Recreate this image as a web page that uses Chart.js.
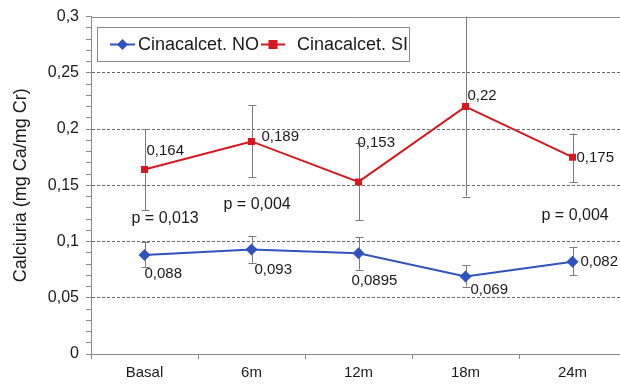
<!DOCTYPE html>
<html>
<head>
<meta charset="utf-8">
<script src="https://cdn.jsdelivr.net/npm/chart.js@4"></script>
<style>
  html, body { margin: 0; padding: 0; overflow: hidden; background: #fff; }
  canvas { display: block; }
</style>
</head>
<body>
<canvas id="chartCanvas" width="632" height="384"></canvas>
<script>
// data
const labels = ["Basal", "6m", "12m", "18m", "24m"];
const noValues = [0.088, 0.093, 0.0895, 0.069, 0.082];
const noUpper = [0.100, 0.105, 0.104, 0.079, 0.095];
const noLower = [0.077, 0.081, 0.075, 0.060, 0.070];
const siValues = [0.164, 0.189, 0.153, 0.22, 0.175];
const siUpper = [0.200, 0.221, 0.188, 0.31, 0.196];
const siLower = [0.128, 0.157, 0.119, 0.140, 0.153];
const noLabels = ["0,088", "0,093", "0,0895", "0,069", "0,082"];
const siLabels = ["0,164", "0,189", "0,153", "0,22", "0,175"];
const pTexts = ["p = 0,013", "p = 0,004", "p = 0,004"];
const pCats = [0, 1, 4];
const pValues = [0.120, 0.133, 0.123];

const FONT = "'Liberation Sans', Arial, sans-serif";
const BLUE = "#3153bd";
const RED = "#d3191f";
const GRAY = "#8a8a8a";

const fmt = v => String(Math.round(v * 100) / 100).replace(".", ",");

// label offsets relative to the point (px)
const siOff = [[2, -19], [10, -5], [-1, -39], [2, -11], [4, 1]];
const noOff = [[0, 19], [3, 20], [-7, 28], [5, 13], [8, 0]];
const pOff = [-13, -28, -31];

const errorBars = {
  id: "errorBars",
  beforeDatasetsDraw(chart) {
    const { ctx, chartArea, scales: { x, y } } = chart;
    ctx.save();
    ctx.beginPath();
    ctx.rect(chartArea.left, chartArea.top, chartArea.right - chartArea.left, chartArea.bottom - chartArea.top);
    ctx.clip();
    ctx.strokeStyle = "#7a7a7a";
    ctx.lineWidth = 1;
    [[noUpper, noLower], [siUpper, siLower]].forEach(([up, lo]) => {
      labels.forEach((l, i) => {
        const px = Math.round(x.getPixelForValue(i)) + 0.5;
        const y1 = y.getPixelForValue(up[i]);
        const y2 = y.getPixelForValue(lo[i]);
        ctx.beginPath();
        ctx.moveTo(px, y1); ctx.lineTo(px, y2);
        ctx.moveTo(px - 4, Math.round(y1) + 0.5); ctx.lineTo(px + 4, Math.round(y1) + 0.5);
        ctx.moveTo(px - 4, Math.round(y2) + 0.5); ctx.lineTo(px + 4, Math.round(y2) + 0.5);
        ctx.stroke();
      });
    });
    ctx.restore();
  },
  afterDatasetsDraw(chart) {
    const { ctx, chartArea, scales: { x, y } } = chart;
    ctx.save();
    // top frame line
    ctx.strokeStyle = GRAY;
    ctx.lineWidth = 1;
    ctx.beginPath();
    ctx.moveTo(chartArea.left, Math.round(chartArea.top) + 0.5);
    ctx.lineTo(chartArea.right, Math.round(chartArea.top) + 0.5);
    ctx.stroke();

    ctx.font = "15px " + FONT;
    ctx.fillStyle = "#1a1a1a";
    ctx.textAlign = "left";
    ctx.textBaseline = "middle";
    labels.forEach((l, i) => {
      const px = x.getPixelForValue(i);
      ctx.fillText(siLabels[i], px + siOff[i][0], y.getPixelForValue(siValues[i]) + siOff[i][1]);
      ctx.fillText(noLabels[i], px + noOff[i][0], y.getPixelForValue(noValues[i]) + noOff[i][1]);
    });
    ctx.font = "16px " + FONT;
    pTexts.forEach((t, k) => {
      ctx.fillText(t, x.getPixelForValue(pCats[k]) + pOff[k], y.getPixelForValue(pValues[k]));
    });

    // legend box
    ctx.fillStyle = "#fff";
    ctx.fillRect(97.5, 27.5, 312, 34);
    ctx.strokeStyle = "#888";
    ctx.strokeRect(97.5, 27.5, 312, 34);
    ctx.beginPath();
    ctx.rect(98, 28, 311, 33);
    ctx.clip();
    const ly = 44.5;
    ctx.lineWidth = 2;
    ctx.strokeStyle = BLUE;
    ctx.beginPath(); ctx.moveTo(110, ly); ctx.lineTo(135, ly); ctx.stroke();
    ctx.fillStyle = BLUE;
    ctx.beginPath();
    ctx.moveTo(122.5, ly - 5.5); ctx.lineTo(128, ly); ctx.lineTo(122.5, ly + 5.5); ctx.lineTo(117, ly);
    ctx.closePath(); ctx.fill();
    ctx.strokeStyle = RED;
    ctx.beginPath(); ctx.moveTo(261, ly); ctx.lineTo(285, ly); ctx.stroke();
    ctx.fillStyle = RED;
    ctx.fillRect(268.5, ly - 4.5, 9, 9);
    ctx.font = "18px " + FONT;
    ctx.fillStyle = "#1a1a1a";
    ctx.fillText("Cinacalcet. NO", 138, ly + 1);
    ctx.fillText("Cinacalcet. SI", 297, ly + 1);
    ctx.restore();
  }
};

new Chart(document.getElementById("chartCanvas"), {
  type: "line",
  data: {
    labels,
    datasets: [
      {
        label: "Cinacalcet. NO",
        data: noValues,
        borderColor: BLUE,
        backgroundColor: BLUE,
        borderWidth: 2,
        pointStyle: "rectRot",
        pointRadius: 6,
        pointBorderWidth: 0,
        tension: 0
      },
      {
        label: "Cinacalcet. SI",
        data: siValues,
        borderColor: RED,
        backgroundColor: RED,
        borderWidth: 2,
        pointStyle: "rect",
        pointRadius: 5,
        pointBorderWidth: 0,
        tension: 0
      }
    ]
  },
  options: {
    responsive: false,
    animation: false,
    layout: { padding: { top: 15, right: 5, left: 0, bottom: 0 } },
    plugins: { legend: { display: false }, tooltip: { enabled: false } },
    scales: {
      x: {
        offset: true,
        grid: { offset: true, drawOnChartArea: false, color: GRAY, tickLength: 5 },
        border: { color: GRAY, width: 1 },
        ticks: { color: "#1a1a1a", font: { family: FONT, size: 15 }, padding: 5, maxRotation: 0 },
        afterFit: s => { s.height = 30; }
      },
      y: {
        min: 0,
        max: 0.3,
        ticks: {
          stepSize: 0.01,
          autoSkip: false,
          color: "#1a1a1a",
          font: { family: FONT, size: 16 },
          padding: 7,
          callback: v => (Math.round(v * 100) % 5 === 0 ? fmt(v) : "")
        },
        grid: {
          color: c => {
            const k = Math.round(c.tick.value * 100);
            return k % 5 === 0 && k !== 0 && k !== 30 ? "#666" : "rgba(0,0,0,0)";
          },
          tickColor: GRAY,
          tickLength: 5,
          lineWidth: 1
        },
        border: { color: GRAY, width: 1, dash: [3, 2] },
        title: {
          display: true,
          text: "Calciuria (mg Ca/mg Cr)",
          color: "#1a1a1a",
          font: { family: FONT, size: 18 },
          padding: { top: 10, bottom: 0 }
        },
        afterFit: s => { s.width = 91; }
      }
    }
  },
  plugins: [errorBars]
});
</script>
</body>
</html>
